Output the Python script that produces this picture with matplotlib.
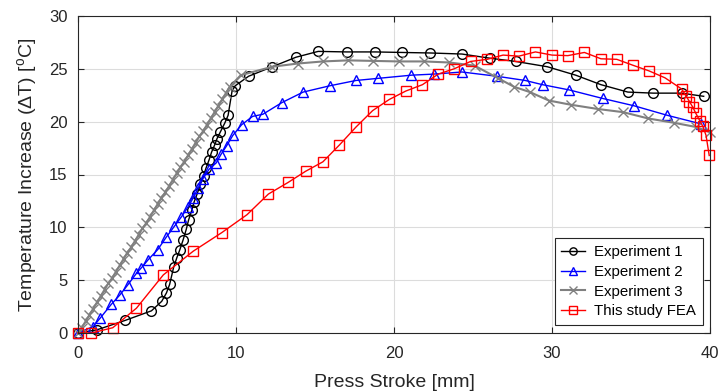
import matplotlib
matplotlib.use("Agg")
import matplotlib.pyplot as plt

plt.rcParams['font.family'] = ['Liberation Sans', 'DejaVu Sans']
plt.rcParams['mathtext.fontset'] = 'custom'
plt.rcParams['mathtext.rm'] = 'Liberation Sans'
plt.rcParams['mathtext.it'] = 'Liberation Sans:italic'

# Experiment 1
exp1_x = [0, 1.2, 3.0, 4.65, 5.3, 5.6, 5.8, 6.05, 6.25, 6.45, 6.65, 6.85, 7.0, 7.2,
          7.35, 7.55, 7.75, 7.95, 8.1, 8.3, 8.45, 8.65, 8.8, 9.0, 9.3, 9.5, 9.75,
          9.95, 10.8, 12.3, 13.8, 15.2, 17.0, 18.8, 20.5, 22.3, 24.3, 26.1, 27.7,
          29.7, 31.5, 33.1, 34.8, 36.4, 38.2, 39.6]
exp1_y = [0, 0.3, 1.2, 2.1, 3.0, 3.8, 4.6, 6.2, 7.1, 7.9, 8.8, 9.8, 10.7, 11.6,
          12.4, 13.2, 14.1, 14.9, 15.6, 16.4, 17.1, 17.8, 18.4, 19.0, 19.9, 20.6, 22.9,
          23.4, 24.3, 25.2, 26.1, 26.65, 26.6, 26.6, 26.55, 26.5, 26.4, 26.0, 25.7,
          25.2, 24.4, 23.5, 22.8, 22.7, 22.7, 22.4]

# Experiment 2
exp2_x = [0, 0.95, 1.4, 2.1, 2.65, 3.15, 3.7, 4.0, 4.45, 5.05, 5.6, 6.1, 6.55, 6.95,
          7.3, 7.6, 7.9, 8.3, 8.75, 9.05, 9.4, 9.8, 10.35, 11.05, 11.7, 12.9, 14.25,
          15.95, 17.6, 19.0, 21.1, 22.5, 24.3, 26.5, 28.3, 29.4, 31.1, 33.2, 35.2,
          37.3, 39.4]
exp2_y = [0, 0.6, 1.4, 2.7, 3.6, 4.55, 5.65, 6.15, 6.95, 7.9, 9.1, 10.1, 11.0, 11.9,
          12.8, 13.7, 14.6, 15.5, 16.1, 16.9, 17.7, 18.7, 19.7, 20.5, 20.7, 21.8, 22.8,
          23.4, 23.9, 24.1, 24.4, 24.5, 24.7, 24.3, 23.9, 23.5, 23.0, 22.2, 21.5,
          20.6, 19.8]

# Experiment 3
exp3_x = [0, 0.24, 0.48, 0.72, 0.96, 1.2, 1.44, 1.68, 1.92, 2.16, 2.4, 2.64, 2.88,
          3.12, 3.36, 3.6, 3.84, 4.08, 4.32, 4.56, 4.8, 5.04, 5.28, 5.52, 5.76, 6.0,
          6.24, 6.48, 6.72, 6.96, 7.2, 7.44, 7.68, 7.92, 8.16, 8.4, 8.64, 8.88, 9.12,
          9.36, 9.6, 10.3, 12.3, 13.9, 15.5, 17.1, 18.7, 20.3, 21.9, 23.5, 25.1, 26.6,
          27.6, 28.6, 29.8, 31.2, 32.9, 34.5, 36.1, 37.7, 39.1, 40.0]
exp3_y = [0, 0.5, 1.1, 1.7, 2.3, 2.9, 3.5, 4.1, 4.7, 5.2, 5.8, 6.4, 7.0,
          7.6, 8.1, 8.7, 9.3, 9.9, 10.4, 11.0, 11.6, 12.2, 12.8, 13.3, 13.9, 14.5,
          15.1, 15.7, 16.2, 16.8, 17.4, 18.0, 18.6, 19.1, 19.7, 20.3, 20.9, 21.5, 22.1,
          22.7, 23.3, 24.4, 25.2, 25.5, 25.7, 25.8, 25.75, 25.7, 25.7, 25.6, 25.3, 24.1,
          23.3, 22.8, 22.0, 21.6, 21.2, 20.9, 20.3, 19.9, 19.5, 19.0]

# Finite element results
fea_x = [0, 0.85, 2.2, 3.7, 5.4, 7.3, 9.1, 10.7, 12.05, 13.3, 14.4, 15.5, 16.55,
         17.6, 18.65, 19.7, 20.75, 21.8, 22.8, 23.8, 24.85, 25.9, 26.9, 27.9, 28.95,
         30.0, 31.0, 32.05, 33.1, 34.1, 35.1, 36.15, 37.15, 38.2, 38.5, 38.7, 38.9,
         39.1, 39.35, 39.55, 39.75, 39.95]
fea_y = [0, 0, 0.5, 2.35, 5.5, 7.75, 9.5, 11.2, 13.15, 14.25, 15.3, 16.2, 17.8,
         19.5, 21.05, 22.1, 22.9, 23.5, 24.5, 25.0, 25.7, 25.9, 26.3, 26.2, 26.6,
         26.3, 26.25, 26.55, 25.95, 25.9, 25.35, 24.8, 24.15, 23.1, 22.4, 21.9, 21.4,
         20.8, 20.1, 19.55, 18.7, 16.8]

series_labels = ['Experiment 1', 'Experiment 2', 'Experiment 3', 'This study FEA']
x_ticks = [0, 10, 20, 30, 40]
y_ticks = [0, 5, 10, 15, 20, 25, 30]

fig = plt.figure(figsize=(7.21, 3.92), dpi=100)
ax = fig.add_axes([78 / 721, 1 - 333 / 392, 632 / 721, 317 / 392])

ax.plot(exp1_x, exp1_y, color='black', lw=1.0, marker='o', ms=7, mfc='none',
        mew=1.0, label=series_labels[0], clip_on=False)
ax.plot(exp2_x, exp2_y, color='blue', lw=1.0, marker='^', ms=7, mfc='none',
        mew=1.0, label=series_labels[1], clip_on=False)
ax.plot(exp3_x, exp3_y, color='#808080', lw=1.5, marker='x', ms=7, mfc='none',
        mew=1.0, label=series_labels[2], clip_on=False)
ax.plot(fea_x, fea_y, color='red', lw=1.0, marker='s', ms=7.5, mfc='none',
        mew=1.0, label=series_labels[3], clip_on=False)

ax.set_xlim(0, 40)
ax.set_ylim(0, 30)
ax.set_xticks(x_ticks)
ax.set_yticks(y_ticks)
ax.grid(True, color='#dcdcdc', lw=0.8)
ax.set_axisbelow(True)

axis_col = '#262626'
for s in ax.spines.values():
    s.set_color(axis_col)
    s.set_linewidth(0.8)
ax.tick_params(direction='in', length=4.5, width=0.8, colors=axis_col,
               labelsize=12, top=True, right=True)
ax.tick_params(axis='x', pad=9)
ax.tick_params(axis='y', pad=7.5)

ax.set_xlabel('Press Stroke [mm]', fontsize=14, color=axis_col, labelpad=10)
ax.set_ylabel(r'Temperature Increase ($\Delta$T) [$^{\mathrm{o}}$C]', fontsize=14,
              color=axis_col, labelpad=7)

leg = ax.legend(loc='lower right', bbox_to_anchor=(0.989, 0.025), borderaxespad=0,
                fontsize=10.8, fancybox=False, framealpha=1, edgecolor=axis_col,
                handlelength=1.6, handletextpad=0.6, labelspacing=0.38,
                borderpad=0.45, markerscale=0.75)
leg.get_frame().set_linewidth(0.8)

fig.savefig('out.png', dpi=100)
